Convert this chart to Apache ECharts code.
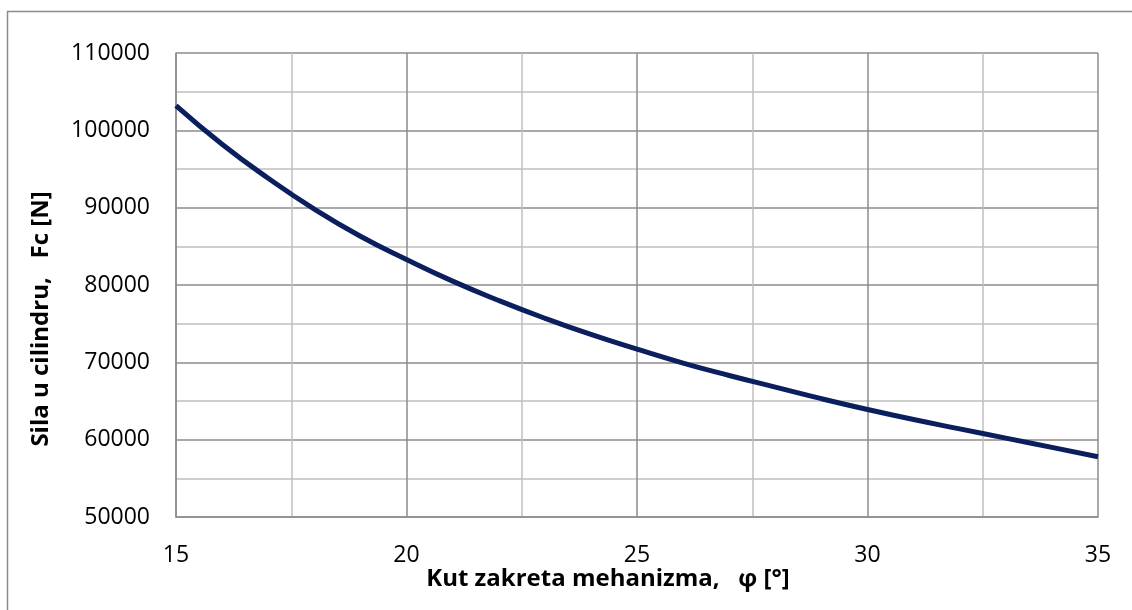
<!DOCTYPE html>
<html>
<head>
<meta charset="utf-8">
<script src="https://cdn.jsdelivr.net/npm/echarts@6/dist/echarts.min.js"></script>
<style>
  html, body { margin: 0; padding: 0; background: #fff; }
  #chart { width: 1132px; height: 610px; }
</style>
</head>
<body>
<div id="chart"></div>
<script>
  // kut zakreta (deg) i sila u cilindru (N), ocitano sa slike
  var kut = [15, 16, 17, 18, 19, 20, 21, 22, 23, 24, 25, 26, 27, 28, 29, 30, 31, 32, 33, 34, 35];
  var sila = [103200, 98200, 93800, 89800, 86300, 83300, 80500, 78000, 75700, 73600, 71700,
              69900, 68300, 66800, 65300, 63900, 62600, 61400, 60200, 59000, 57800];

  var xName = 'Kut zakreta mehanizma,   φ [°]';
  var yName = 'Sila u cilindru,   Fc [N]';

  var points = kut.map(function (k, i) { return [k, sila[i]]; });

  var chart = echarts.init(document.getElementById('chart'));
  chart.setOption({
    animation: false,
    grid: { left: 176, top: 53, right: 34, bottom: 93 },
    graphic: [
      {
        type: 'rect',
        shape: { x: 7.5, y: 11.5, width: 1200, height: 700 },
        style: { fill: 'none', stroke: '#8c8c8c', lineWidth: 1.5 },
        silent: true
      },
      {
        type: 'text',
        x: 41, y: 319,
        rotation: Math.PI / 2,
        style: {
          text: yName, fill: '#000', font: 'bold 24px "Open Sans"',
          align: 'center', verticalAlign: 'middle'
        }
      },
      {
        type: 'text',
        x: 608, y: 579,
        style: {
          text: xName, fill: '#000', font: 'bold 24px "Open Sans"',
          align: 'center', verticalAlign: 'middle'
        }
      }
    ],
    xAxis: {
      type: 'value',
      min: 15, max: 35, interval: 5,
      axisLine: { show: true, lineStyle: { color: '#8c8c8c', width: 1.5 } },
      axisTick: { show: false },
      axisLabel: { margin: 27, color: '#000', fontSize: 23, fontFamily: 'Open Sans' },
      splitLine: { show: true, lineStyle: { color: '#8c8c8c', width: 1.5 } },
      minorTick: { show: false, splitNumber: 2 },
      minorSplitLine: { show: true, lineStyle: { color: '#c0c0c0', width: 1.5 } }
    },
    yAxis: {
      type: 'value',
      min: 50000, max: 110000, interval: 10000,
      axisLine: { show: true, lineStyle: { color: '#8c8c8c', width: 1.5 } },
      axisTick: { show: false },
      axisLabel: {
        margin: 26, color: '#000', fontSize: 23, fontFamily: 'Open Sans',
        formatter: function (v) { return String(v); }
      },
      splitLine: { show: true, lineStyle: { color: '#8c8c8c', width: 1.5 } },
      minorTick: { show: false, splitNumber: 2 },
      minorSplitLine: { show: true, lineStyle: { color: '#c0c0c0', width: 1.5 } }
    },
    series: [
      {
        type: 'line',
        data: points,
        smooth: true,
        showSymbol: false,
        lineStyle: { color: '#0b1f5e', width: 5 }
      }
    ]
  });
</script>
</body>
</html>
